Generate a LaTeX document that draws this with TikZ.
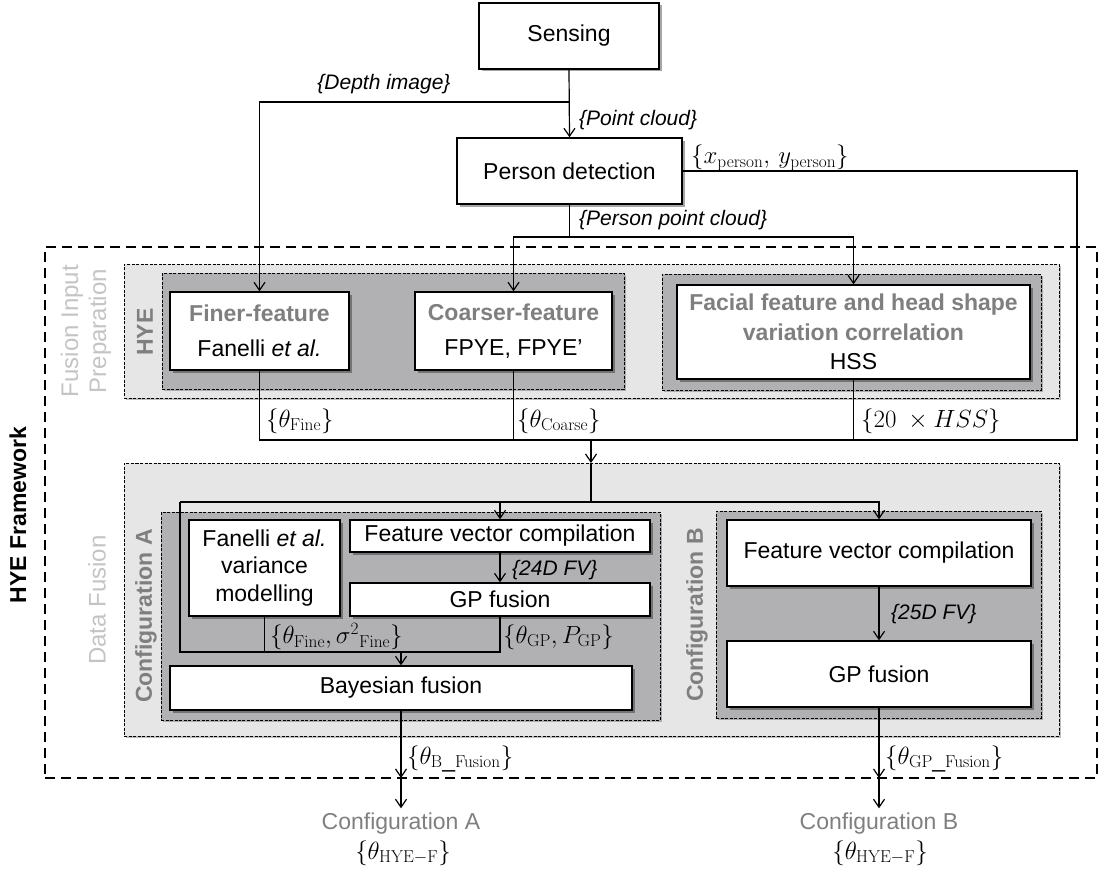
\documentclass[tikz,border=0pt]{standalone}
\usepackage[no-math]{fontspec}
\setmainfont{Liberation Sans}
\usetikzlibrary{arrows.meta,shadows}
\DeclareMathSizes{23}{23}{18.5}{14}
\definecolor{lightfill}{HTML}{E6E6E7}
\definecolor{darkfill}{HTML}{B1B1B3}
\definecolor{grtext}{HTML}{7F7F7F}
\definecolor{lgtext}{HTML}{C4C4C4}
\newcommand\bxfont{\fontsize{23}{28}\selectfont}
\newcommand\lblfont{\fontsize{21}{25}\selectfont\itshape}
\newcommand\mthfont{\fontsize{23}{27}\selectfont}
\newcommand\gb[1]{{\bfseries\color{grtext}#1}}
\begin{document}
\begin{tikzpicture}[x=1pt,y=-1pt,
  box/.style={draw=black, fill=white, line width=1.4pt, inner sep=0pt, align=center, font=\bxfont,
    drop shadow={shadow xshift=2.5pt, shadow yshift=-2.5pt, opacity=0.35, fill=black}},
  outerbox/.style={draw=black, line width=2.2pt, dash pattern=on 10pt off 6pt, inner sep=0pt},
  lightgrp/.style={draw=black, fill=lightfill, line width=0.9pt, dash pattern=on 3pt off 1.5pt, inner sep=0pt,
    drop shadow={shadow xshift=2pt, shadow yshift=-2pt, opacity=0.25, fill=black}},
  darkgrp/.style={draw=black, fill=darkfill, line width=0.9pt, dash pattern=on 3pt off 1.5pt, inner sep=0pt,
    drop shadow={shadow xshift=2pt, shadow yshift=-2pt, opacity=0.25, fill=black}},
  line/.style={draw=black, line width=1.2pt},
  arr/.style={line, -{Straight Barb[length=8pt,width=11pt]}},
  lbl/.style={font=\lblfont, inner sep=0pt, anchor=west},
  mlbl/.style={font=\mthfont, inner sep=0pt, anchor=west},
  side/.style={rotate=90, inner sep=0pt, align=center},
  outlbl/.style={inner sep=0pt, font=\fontsize{23}{27}\selectfont, text=grtext},
]
\useasboundingbox (0,0) rectangle (1105,872);

% framework and groups
\node[outerbox, minimum width=1052pt, minimum height=531pt] (hye) at (571,512.5) {};
\node[lightgrp, minimum width=935pt, minimum height=134pt] (fip) at (591.5,331) {};
\node[darkgrp, minimum width=462pt, minimum height=116pt] (hyegrp) at (393,331) {};
\node[darkgrp, minimum width=379pt, minimum height=116pt] (hssgrp) at (851.5,332) {};
\node[lightgrp, minimum width=935pt, minimum height=273pt] (dfgrp) at (591.5,599.5) {};
\node[darkgrp, minimum width=499pt, minimum height=208pt] (cagrp) at (410.5,616) {};
\node[darkgrp, minimum width=325pt, minimum height=207pt] (cbgrp) at (878.5,614.5) {};

% side labels
\node[side, font=\fontsize{23}{27}\selectfont\bfseries] (lhye) at (18,515) {HYE Framework};
\node[side, font=\fontsize{24}{28}\selectfont, text=lgtext] (lfip) at (86,331) {Fusion Input\\Preparation};
\node[side, font=\fontsize{24}{28}\selectfont, text=lgtext] (ldf) at (97,600) {Data Fusion};
\node[side, font=\fontsize{23}{27}\selectfont\bfseries, text=grtext] (lhyeg) at (145,332) {HYE};
\node[side, font=\fontsize{23}{27}\selectfont\bfseries, text=grtext] (lca) at (146,616) {Configuration A};
\node[side, font=\fontsize{23}{27}\selectfont\bfseries, text=grtext] (lcb) at (697,615) {Configuration B};

% boxes
\node[box, minimum width=180pt, minimum height=66pt] (sens) at (569,36) {Sensing};
\node[box, minimum width=225pt, minimum height=66pt] (pd) at (569.5,171) {Person detection};
\node[box, minimum width=179pt, minimum height=78pt] (finer) at (259.5,331) {\gb{Finer-feature}\\[7pt]Fanelli \textit{et al.}};
\node[box, minimum width=197pt, minimum height=78pt] (coarse) at (513.5,331) {\gb{Coarser-feature}\\[7pt]FPYE, FPYE’};
\node[box, minimum width=353pt, minimum height=94pt, font=\fontsize{23}{29.5}\selectfont] (facial) at (853.5,332) {\gb{Facial feature and head shape}\\\gb{variation correlation}\\HSS};
\node[box, minimum width=151pt, minimum height=96pt, font=\fontsize{23}{27.5}\selectfont] (fanvar) at (264.5,568) {Fanelli \textit{et al.}\\variance\\modelling};
\node[box, minimum width=300pt, minimum height=32pt] (fvca) at (500,536) {Feature vector compilation};
\node[box, minimum width=300pt, minimum height=33pt] (gpa) at (500,599.5) {GP fusion};
\node[box, minimum width=462pt, minimum height=44pt] (bayes) at (401,688) {Bayesian fusion};
\node[box, minimum width=304pt, minimum height=66pt] (fvcb) at (879,553) {Feature vector compilation};
\node[box, minimum width=304pt, minimum height=66pt] (gpb) at (879,674) {GP fusion};

% outputs
\node[outlbl, outer sep=5pt] (outa) at (401,824) {Configuration A};
\node[mlbl, anchor=center] (outam) at (403,853) {$\{\theta_{\mathrm{HYE}-\mathrm{F}}\}$};
\node[outlbl, outer sep=5pt] (outb) at (879,824) {Configuration B};
\node[mlbl, anchor=center] (outbm) at (880,853) {$\{\theta_{\mathrm{HYE}-\mathrm{F}}\}$};

% coordinates
\coordinate (dsplit) at (569,102);
\coordinate (ppsplit) at (569.5,237);
\coordinate (xr) at (1077,171);
\coordinate (jn) at (591,440);
\coordinate (dftop) at (591,463);
\coordinate (bus) at (591,502);
\coordinate (busl) at (180,502);
\coordinate (bayin) at (401,652);
\coordinate (ca) at (401,778);
\coordinate (cb) at (879,778);

% connectors
\draw[arr] (sens.south) -- (pd.north);
\draw[arr] (dsplit) -| (finer.north);
\draw[line] (pd.south) -- (ppsplit);
\draw[arr] (ppsplit) -| (coarse.north);
\draw[arr] (ppsplit) -| (facial.north);
\draw[line] (pd.east) -- (xr) |- (jn);
\draw[line] (finer.south) |- (jn);
\draw[line] (coarse.south) |- (jn);
\draw[line] (facial.south) |- (jn);
\draw[arr] (jn) -- (dftop);
\draw[line] (dftop) -- (bus);
\draw[line] (busl) -- (bus);
\draw[arr] (bus) -| (fvcb.north);
\draw[arr] (busl) -| (fvca.north);
\draw[line] (busl) |- (gpa.south |- bayin) -- (gpa.south);
\draw[line] (fanvar.south) -- (fanvar.south |- bayin);
\draw[arr] (bayin) -- (bayes.north);
\draw[arr] (fvca.south) -- (gpa.north);
\draw[arr] (fvcb.south) -- (gpb.north);
\draw[arr] (bayes.south) -- (ca);
\draw[arr] (ca) -- (outa.north);
\draw[arr] (gpb.south) -- (cb);
\draw[arr] (cb) -- (outb.north);

% connector labels
\node[lbl, anchor=center] (ldepth) at (384,84) {\{Depth image\}};
\node[lbl] (lpc) at (579,120) {\{Point cloud\}};
\node[lbl] (lppc) at (579,220) {\{Person point cloud\}};
\node[mlbl] (lxy) at (691,158) {$\{x_{\mathrm{person}},\, y_{\mathrm{person}}\}$};
\node[mlbl] (lfine) at (266,421) {$\{\theta_{\mathrm{Fine}}\}$};
\node[mlbl] (lcoarse) at (517,421) {$\{\theta_{\mathrm{Coarse}}\}$};
\node[mlbl] (lhss) at (861,421) {$\{20\ \times HSS\}$};
\node[lbl] (l24) at (512,570) {\{24D FV\}};
\node[mlbl] (lfs) at (270,637) {$\{\theta_{\mathrm{Fine}},\sigma^{2}{}_{\mathrm{Fine}}\}$};
\node[mlbl] (lgp) at (503,637) {$\{\theta_{\mathrm{GP}},P_{\mathrm{GP}}\}$};
\node[lbl] (l25) at (891,614) {\{25D FV\}};
\node[mlbl] (lbf) at (407,759) {$\{\theta_{\mathrm{B\_Fusion}}\}$};
\node[mlbl] (lgf) at (885,759) {$\{\theta_{\mathrm{GP\_Fusion}}\}$};
\end{tikzpicture}
\end{document}
